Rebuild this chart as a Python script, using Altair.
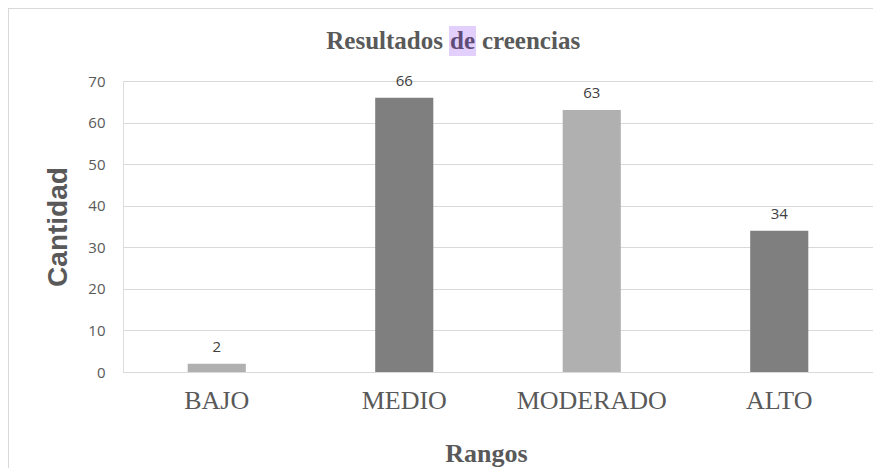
import altair as alt
import pandas as pd

categories = ["BAJO", "MEDIO", "MODERADO", "ALTO"]
values = [2, 66, 63, 34]
bar_colors = ["#b0b0b0", "#7f7f7f", "#b0b0b0", "#7f7f7f"]
y_ticks = [0, 10, 20, 30, 40, 50, 60, 70]

title_parts = ["Resultados", "de", "creencias"]

df = pd.DataFrame({"cat": categories, "val": values})
one = pd.DataFrame({"a": [0]})

W, H = 750, 291
PL, PT, PR, PB = 115, 73, 0, 96

x_enc = alt.X(
    "cat:N",
    sort=categories,
    scale=alt.Scale(paddingInner=0.69, paddingOuter=0.345),
    axis=alt.Axis(
        title="Rangos",
        labelAngle=0,
        labelFont="Liberation Serif",
        labelFontSize=26,
        labelColor="#595959",
        labelPadding=15,
        ticks=False,
        domainColor="#d9d9d9",
        grid=False,
        titleFont="Liberation Serif",
        titleFontSize=26,
        titleFontWeight="bold",
        titleColor="#595959",
        titleX=363,
        titleY=89,
        titleAlign="center",
        titleBaseline="alphabetic",
    ),
)
y_enc = alt.Y(
    "val:Q",
    scale=alt.Scale(domain=[0, 70], nice=False),
    axis=alt.Axis(
        title="Cantidad",
        values=y_ticks,
        labelFont="Open Sans",
        labelFontSize=15,
        labelColor="#595959",
        labelPadding=18,
        ticks=False,
        domain=False,
        gridColor="#d9d9d9",
        gridWidth=1,
        titleFont="Liberation Sans",
        titleFontSize=28,
        titleFontWeight="bold",
        titleColor="#595959",
        titleAngle=-90,
        titleX=-65,
        titleY=H / 2,
        titleAlign="center",
        titleBaseline="middle",
    ),
)

border_left = alt.Chart(one).mark_rule(stroke="#d9d9d9", strokeWidth=1).encode(
    x=alt.value(-PL + 0.5), y=alt.value(-PT), y2=alt.value(H + PB)
)
border_top = alt.Chart(one).mark_rule(stroke="#d9d9d9", strokeWidth=1).encode(
    x=alt.value(-PL), x2=alt.value(W + PR), y=alt.value(-PT + 0.5)
)

highlight = alt.Chart(one).mark_rect(fill="#e2cffb").encode(
    x=alt.value(326), x2=alt.value(353), y=alt.value(-55), y2=alt.value(-25)
)

bars = alt.Chart(df).mark_bar().encode(
    x=x_enc,
    y=y_enc,
    color=alt.Color("cat:N", scale=alt.Scale(domain=categories, range=bar_colors), legend=None),
)

labels = alt.Chart(df).mark_text(
    baseline="bottom", dy=-9, font="Open Sans", fontSize=15, color="#404040"
).encode(x=alt.X("cat:N", sort=categories), y="val:Q", text="val:Q")

t1 = alt.Chart(one).mark_text(
    text=title_parts[0], align="right", baseline="alphabetic",
    font="Liberation Serif", fontSize=25, fontWeight="bold", color="#595959"
).encode(x=alt.value(320), y=alt.value(-32))
t2 = alt.Chart(one).mark_text(
    text=title_parts[1], align="center", baseline="alphabetic",
    font="Liberation Serif", fontSize=25, fontWeight="bold", color="#5f4b78"
).encode(x=alt.value(339.5), y=alt.value(-32))
t3 = alt.Chart(one).mark_text(
    text=title_parts[2], align="left", baseline="alphabetic",
    font="Liberation Serif", fontSize=25, fontWeight="bold", color="#595959"
).encode(x=alt.value(359), y=alt.value(-32))

chart = alt.layer(border_left, border_top, highlight, bars, labels, t1, t2, t3).properties(
    width=W,
    height=H,
    autosize=alt.AutoSizeParams(type="none"),
    padding={"left": PL, "top": PT, "right": PR, "bottom": PB},
).configure_view(stroke=None).configure(background="white")

chart.save("out.html", embed_options={"renderer": "svg", "actions": False})
